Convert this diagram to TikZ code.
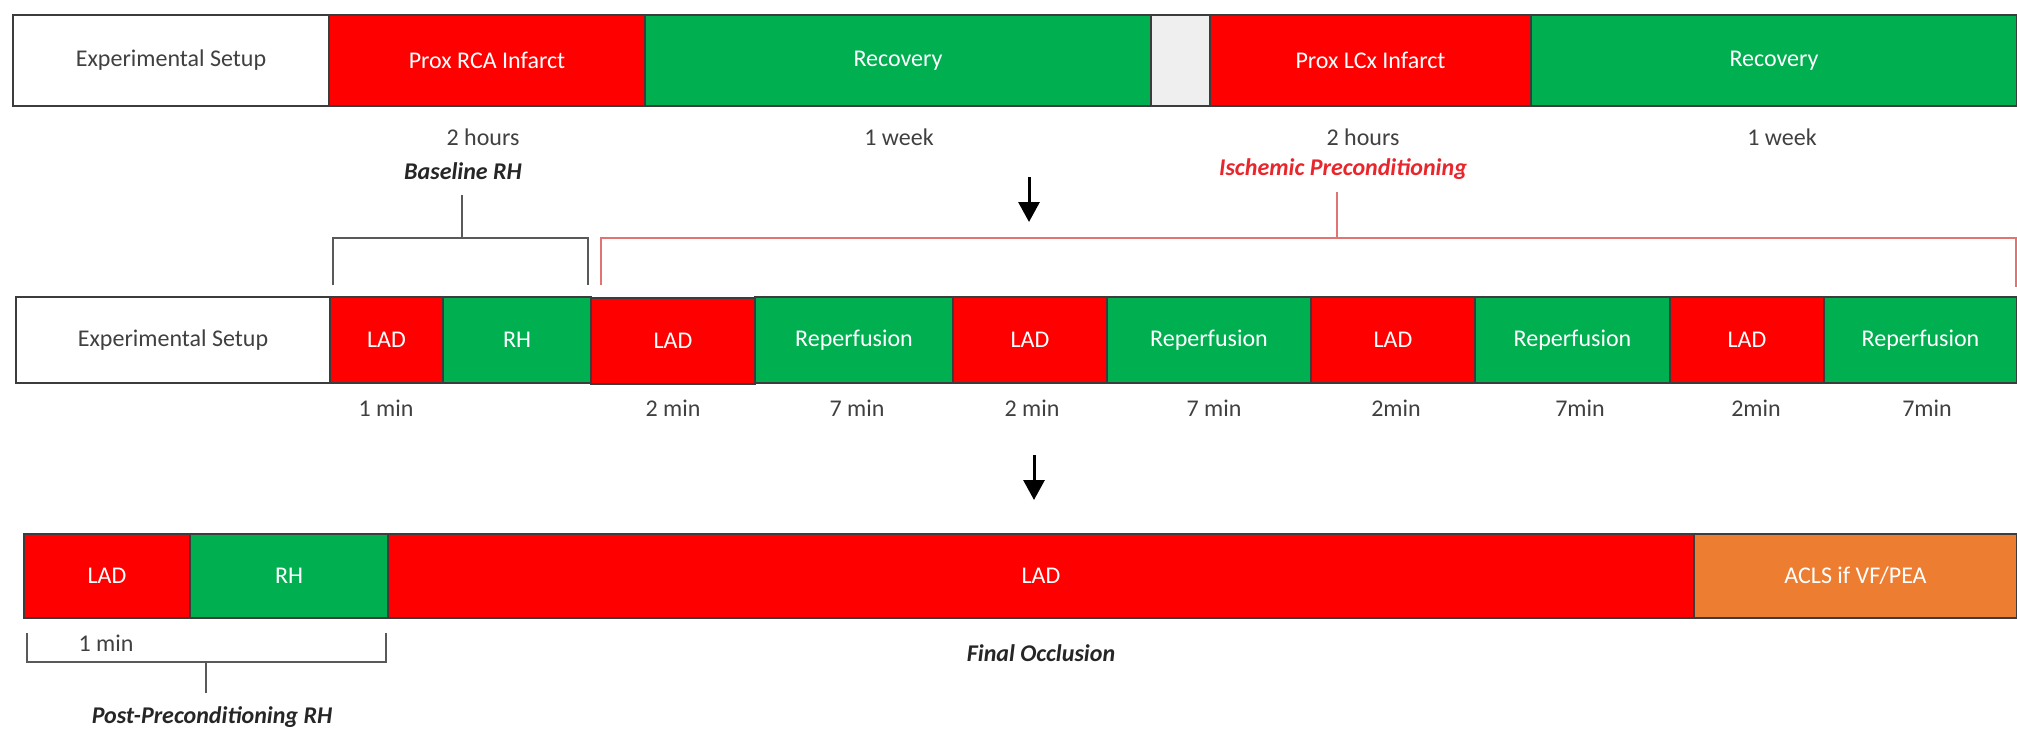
\documentclass[tikz,border=0pt]{standalone}
\usepackage{fontspec}
\setmainfont{Carlito}
\usetikzlibrary{arrows.meta,positioning}
\definecolor{cRed}{HTML}{FF0000}
\definecolor{cGreen}{HTML}{00B050}
\definecolor{cOrange}{HTML}{ED7D31}
\definecolor{cGray}{HTML}{EFEFEF}
\definecolor{cLine}{HTML}{3C3C3C}
\definecolor{cTxt}{HTML}{404040}
\definecolor{cPink}{HTML}{E27373}
\definecolor{cIsch}{HTML}{E8262B}
\tikzstyle{seg}=[rectangle,draw=cLine,line width=2pt,inner sep=0pt,font=\fontsize{24}{28}\selectfont,text=white]
\tikzstyle{segW}=[seg,fill=white,text=cTxt]
\tikzstyle{segR}=[seg,fill=cRed]
\tikzstyle{segG}=[seg,fill=cGreen]
\tikzstyle{segO}=[seg,fill=cOrange]
\tikzstyle{segE}=[seg,fill=cGray]
\tikzstyle{rowA}=[minimum height=91pt]
\tikzstyle{rowB}=[minimum height=86pt]
\tikzstyle{rowC}=[minimum height=84pt]
\tikzstyle{tS}=[inner sep=0pt,font=\fontsize{24}{28}\selectfont,text=cTxt]
\tikzstyle{lS}=[inner sep=0pt,font=\fontsize{24}{28}\selectfont\bfseries\itshape,text=black!85]
\tikzstyle{brk}=[line width=2.5pt,draw=black!65]
\tikzstyle{brkR}=[line width=2pt,draw=cPink]
\tikzstyle{arr}=[line width=3pt,-{Triangle[width=21pt,length=20pt]}]

\begin{document}
\begin{tikzpicture}[x=1pt,y=-1pt]
    \useasboundingbox (0,0) rectangle (2017,728);
    % first protocol line
    \draw (171,60.5) node[segW,rowA,minimum width=316pt] (expA) {Experimental Setup};
    \draw (487,60.5) node[segR,rowA,minimum width=316pt] (rcaA) {Prox RCA Infarct};
    \draw (898,60.5) node[segG,rowA,minimum width=506pt] (recA) {Recovery};
    \draw (1180.5,60.5) node[segE,rowA,minimum width=59pt] (gapA) {};
    \draw (1370.5,60.5) node[segR,rowA,minimum width=321pt] (lcxA) {Prox LCx Infarct};
    \draw (1774,60.5) node[segG,rowA,minimum width=486pt] (recB) {Recovery};
    \draw (483,137) node[tS] (tA1) {2 hours};
    \draw (899,137) node[tS] (tA2) {1 week};
    \draw (1363,137) node[tS] (tA3) {2 hours};
    \draw (1782,137) node[tS] (tA4) {1 week};
    \draw (463,171) node[lS] (bRH) {Baseline RH};
    \draw (1343,169) node[lS,text=cIsch] (iPC) {Ischemic Preconditioning};
    % brackets
    \coordinate (bTop) at (462,238);
    \coordinate (iTop) at (1337,238);
    \draw[brk] (333,285) |- (588,238) -- (588,285);
    \draw[brk] (bTop) -- (462,195);
    \draw[brkR] (601,285) |- (2016,238) -- (2016,287);
    \draw[brkR] (iTop) -- (1337,192);
    \coordinate (aA) at (1029,177);
    \coordinate (aB) at (1029,222);
    \draw[arr] (aA) -- (aB);
    % second protocol line
    \draw (173,340) node[segW,rowB,minimum width=314pt] (expB) {Experimental Setup};
    \draw (386.5,340) node[segR,rowB,minimum width=113pt] (ladA) {LAD};
    \draw (517,340) node[segG,rowB,minimum width=148pt] (rhA) {RH};
    \draw (673,341) node[segR,rowB,minimum width=164pt] (ladB) {LAD};
    \draw (854,340) node[segG,rowB,minimum width=198pt] (repA) {Reperfusion};
    \draw (1030,340) node[segR,rowB,minimum width=154pt] (ladC) {LAD};
    \draw (1209,340) node[segG,rowB,minimum width=204pt] (repB) {Reperfusion};
    \draw (1393,340) node[segR,rowB,minimum width=164pt] (ladD) {LAD};
    \draw (1572.5,340) node[segG,rowB,minimum width=195pt] (repC) {Reperfusion};
    \draw (1747,340) node[segR,rowB,minimum width=154pt] (ladE) {LAD};
    \draw (1920.5,340) node[segG,rowB,minimum width=193pt] (repD) {Reperfusion};
    \draw (386,408) node[tS] (tB1) {1 min};
    \draw (673,408) node[tS] (tB2) {2 min};
    \draw (857,408) node[tS] (tB3) {7 min};
    \draw (1032,408) node[tS] (tB4) {2 min};
    \draw (1214,408) node[tS] (tB5) {7 min};
    \draw (1396,408) node[tS] (tB6) {2min};
    \draw (1580,408) node[tS] (tB7) {7min};
    \draw (1756,408) node[tS] (tB8) {2min};
    \draw (1927,408) node[tS] (tB9) {7min};
    \coordinate (aC) at (1034,455);
    \coordinate (aD) at (1034,500);
    \draw[arr] (aC) -- (aD);
    % third protocol line
    \draw (107,576) node[segR,rowC,minimum width=166pt] (ladF) {LAD};
    \draw (289,576) node[segG,rowC,minimum width=198pt] (rhB) {RH};
    \draw (1041,576) node[segR,rowC,minimum width=1306pt] (ladG) {LAD};
    \draw (1855.5,576) node[segO,rowC,minimum width=323pt] (acls) {ACLS if VF/PEA};
    \draw (106,643) node[tS] (tC1) {1 min};
    \draw (1041,653) node[lS] (fOcc) {Final Occlusion};
    \draw (212,717) node[lS] (pRH) {Post-Preconditioning RH};
    \coordinate (pTop) at (206,662);
    \draw[brk] (27,633) |- (386,662) -- (386,633);
    \draw[brk] (pTop) -- (206,693);
\end{tikzpicture}
\end{document}
